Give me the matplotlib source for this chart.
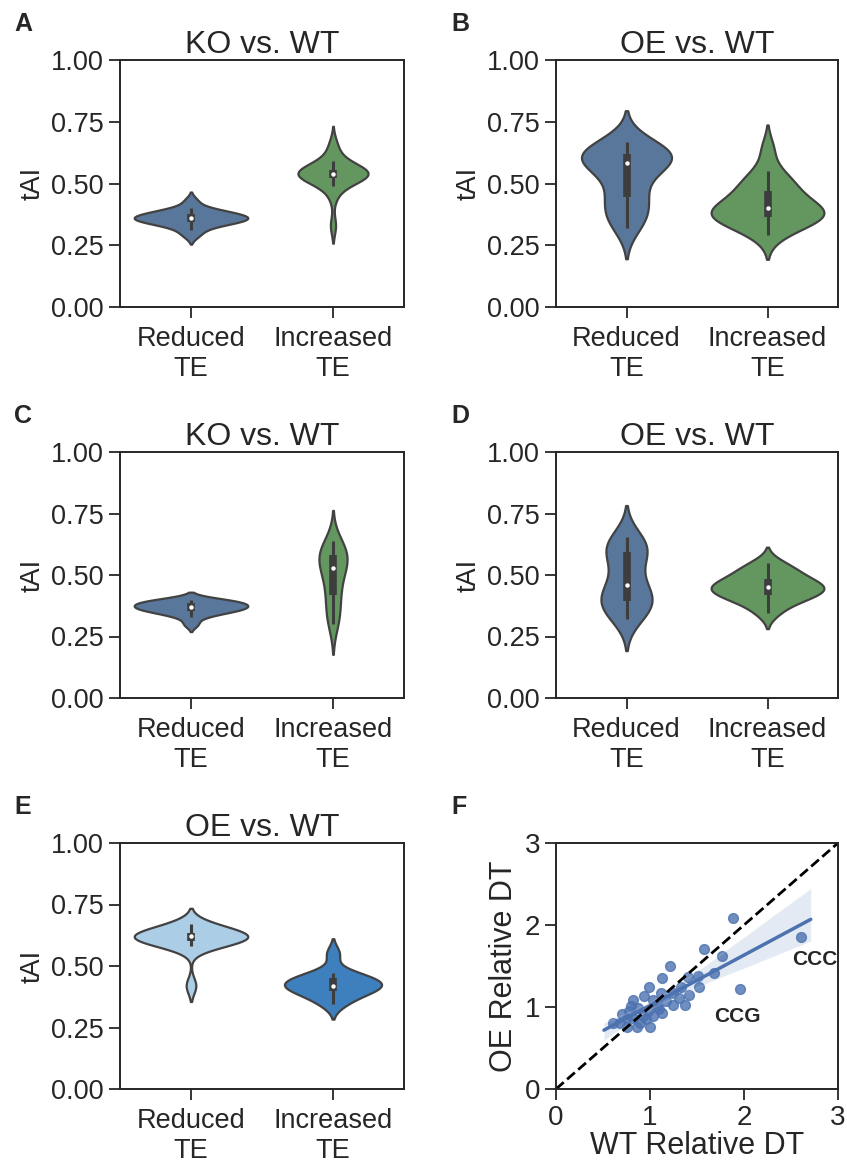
import numpy as np
import pandas as pd
import matplotlib
matplotlib.use('Agg')
import matplotlib.pyplot as plt
from matplotlib import cbook
import seaborn as sns

sns.set_style('ticks')
plt.rcParams['font.family'] = ['Liberation Sans', 'DejaVu Sans']
plt.rcParams['text.color'] = '#262626'
plt.rcParams['axes.labelcolor'] = '#262626'
plt.rcParams['xtick.color'] = '#262626'
plt.rcParams['ytick.color'] = '#262626'
plt.rcParams['axes.edgecolor'] = '#262626'

groups = ['Reduced\nTE', 'Increased\nTE']

# tAI of genes with reduced / increased TE
a_reduced = [0.29, 0.31, 0.33, 0.335, 0.34, 0.345, 0.35, 0.355, 0.36, 0.36, 0.36,
             0.365, 0.37, 0.375, 0.38, 0.385, 0.39, 0.40, 0.43]
a_increased = [0.33, 0.45, 0.49, 0.51, 0.52, 0.525, 0.53, 0.53, 0.535, 0.54, 0.54,
               0.545, 0.55, 0.55, 0.555, 0.56, 0.57, 0.59, 0.62, 0.66]
b_reduced = [0.32, 0.35, 0.38, 0.40, 0.44, 0.46, 0.50, 0.55, 0.58, 0.59, 0.60,
             0.60, 0.61, 0.62, 0.62, 0.63, 0.64, 0.67]
b_increased = [0.29, 0.32, 0.34, 0.35, 0.36, 0.37, 0.37, 0.38, 0.39, 0.40, 0.40,
               0.42, 0.44, 0.46, 0.48, 0.50, 0.52, 0.55, 0.64]
c_reduced = [0.30, 0.33, 0.34, 0.35, 0.355, 0.36, 0.36, 0.365, 0.37, 0.375, 0.38,
             0.38, 0.385, 0.39, 0.395, 0.40, 0.40]
c_increased = [0.30, 0.32, 0.35, 0.39, 0.42, 0.45, 0.48, 0.51, 0.53, 0.55, 0.56,
               0.57, 0.58, 0.59, 0.60, 0.62, 0.64]
d_reduced = [0.32, 0.34, 0.36, 0.37, 0.39, 0.40, 0.41, 0.42, 0.45, 0.47, 0.50,
             0.56, 0.58, 0.60, 0.61, 0.62, 0.64, 0.655]
d_increased = [0.345, 0.38, 0.40, 0.41, 0.42, 0.43, 0.44, 0.45, 0.45, 0.46, 0.47,
               0.48, 0.50, 0.51, 0.53, 0.55]
e_reduced = [0.42, 0.58, 0.59, 0.60, 0.60, 0.61, 0.61, 0.62, 0.62, 0.62, 0.63,
             0.63, 0.64, 0.65, 0.66, 0.67]
e_increased = [0.345, 0.37, 0.39, 0.40, 0.41, 0.42, 0.42, 0.43, 0.44, 0.45, 0.46,
               0.47, 0.55]

# panel F: relative decoding time per codon
wt_dt = [1.88, 2.61, 1.96, 1.57, 1.77, 1.68, 1.21, 1.13, 1.52, 1.51, 1.40, 1.33,
         1.24, 1.12, 0.99, 0.94, 1.03, 1.24, 1.37, 1.41, 1.13, 1.10, 0.82, 0.87,
         0.80, 0.70, 0.61, 0.68, 0.75, 0.82, 0.89, 0.96, 1.00, 0.93, 0.75, 0.86,
         0.98, 1.07, 1.17, 1.31, 0.78, 1.03]
oe_dt = [2.08, 1.85, 1.22, 1.71, 1.62, 1.42, 1.50, 1.35, 1.25, 1.38, 1.37, 1.25,
         1.17, 1.17, 1.24, 1.13, 1.09, 1.03, 1.03, 1.15, 0.93, 0.97, 1.09, 0.99,
         1.01, 0.91, 0.80, 0.80, 0.85, 0.87, 0.80, 0.85, 0.76, 0.89, 0.76, 0.76,
         0.95, 1.01, 1.07, 1.11, 0.95, 0.89]

W, H = 847, 1165
fig = plt.figure(figsize=(W / 100, H / 100), dpi=100)

def ax_at(x0, y0, x1, y1):
    return fig.add_axes([x0 / W, 1 - y1 / H, (x1 - x0) / W, (y1 - y0) / H])

rows = [(60, 307), (452, 698), (843, 1089)]
cols = [(120, 404), (556, 838)]

blue_green = ['#58779b', '#64975f']
panels = [
    ('A', 'KO vs. WT', a_reduced, a_increased, blue_green, 0, 0),
    ('B', 'OE vs. WT', b_reduced, b_increased, blue_green, 0, 1),
    ('C', 'KO vs. WT', c_reduced, c_increased, blue_green, 1, 0),
    ('D', 'OE vs. WT', d_reduced, d_increased, blue_green, 1, 1),
    ('E', 'OE vs. WT', e_reduced, e_increased, ['#abcde5', '#3e80be'], 2, 0),
]

for letter, title, red, inc, pal, r, c in panels:
    ax = ax_at(cols[c][0], rows[r][0], cols[c][1], rows[r][1])
    df = pd.DataFrame({'group': [groups[0]] * len(red) + [groups[1]] * len(inc),
                       'tAI': red + inc})
    sns.violinplot(data=df, x='group', y='tAI', hue='group', palette=pal,
                   saturation=1, legend=False, inner=None, linewidth=1.6,
                   linecolor='#424242', common_norm=True, ax=ax)
    # inner box: whiskers, IQR bar, white median dot
    for i, vals in enumerate([red, inc]):
        st = cbook.boxplot_stats(np.array(vals))[0]
        ax.plot([i, i], [st['whislo'], st['whishi']], color='#3d3d3d', lw=2.2,
                solid_capstyle='butt', zorder=3)
        ax.plot([i, i], [st['q1'], st['q3']], color='#3d3d3d', lw=5.5,
                solid_capstyle='butt', zorder=3)
        ax.plot(i, st['med'], 'o', color='white', ms=3.2, mew=0, zorder=4)
    ax.set_xlim(-0.5, 1.5)
    ax.set_ylim(0, 1)
    ax.set_yticks([0, 0.25, 0.5, 0.75, 1.0])
    ax.set_xlabel('')
    ax.set_ylabel('tAI', fontsize=19.5)
    ax.set_title(title, fontsize=23, pad=5)
    ax.tick_params(length=8, width=1.3, labelsize=19.5)
    ax.tick_params(axis='x', pad=5.5)
    for s in ax.spines.values():
        s.set_linewidth(1.4)
    lx = 14 if c == 0 else 451
    fig.text(lx / W, 1 - (rows[r][0] - 48) / H, letter, fontsize=18,
             fontweight='bold', va='top', ha='left')

# panel F
axf = ax_at(556, 843, 838, 1089)
sns.regplot(x=wt_dt, y=oe_dt, ax=axf, truncate=False, color='#4C72B0',
            scatter_kws={'s': 50}, line_kws={'lw': 2.5}, seed=0)
axf.plot([0, 3], [0, 3], 'k--', lw=2)
axf.set_xlim(0, 3)
axf.set_ylim(0, 3)
axf.set_xticks([0, 1, 2, 3])
axf.set_yticks([0, 1, 2, 3])
axf.set_xlabel('WT Relative DT', fontsize=22, labelpad=0)
axf.set_ylabel('OE Relative DT', fontsize=22)
axf.tick_params(length=8, width=1.3, labelsize=20)
for s in axf.spines.values():
    s.set_linewidth(1.4)
axf.text(1.93, 0.89, 'CCG', fontsize=15, fontweight='bold', ha='center', va='center')
axf.text(2.75, 1.58, 'CCC', fontsize=15, fontweight='bold', ha='center', va='center')
fig.text(451 / W, 1 - (843 - 48) / H, 'F', fontsize=18, fontweight='bold',
         va='top', ha='left')

fig.savefig('out.png', dpi=100)
